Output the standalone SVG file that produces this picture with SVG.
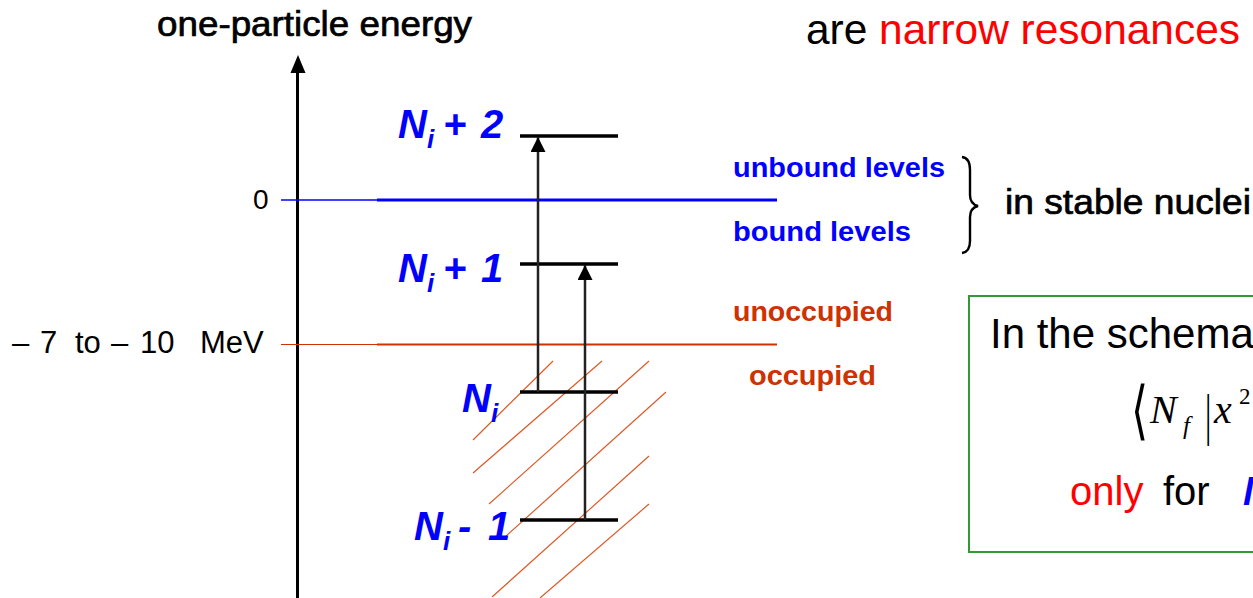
<svg xmlns="http://www.w3.org/2000/svg" width="1253" height="598" viewBox="0 0 1253 598">
<style>
.sans{font-family:"Liberation Sans",Arial,sans-serif}
.heavy{stroke:#000;stroke-width:0.7}
.lab{font-family:"Liberation Sans",Arial,sans-serif;font-weight:bold;font-style:italic;fill:#0000ff;font-size:40px}
.sub{font-size:26px}
.lvl{stroke:#000;stroke-width:3.5}
.hatch{stroke:#dc5a28;stroke-width:1.2}
.orange{fill:#cc3300}
.blue{fill:#0000ff}
.serif{font-family:"Liberation Serif","Times New Roman",serif}
</style>
<defs>
<marker id="ah" markerUnits="userSpaceOnUse" markerWidth="16" markerHeight="16" refX="15" refY="7.5" orient="auto">
<path d="M0,0 L15,7.5 L0,15 Z" fill="#000"/>
</marker>
</defs>
<rect width="1253" height="598" fill="#fff"/>

<g id="title">
<text class="sans heavy" x="157" y="36" font-size="35" textLength="315" lengthAdjust="spacingAndGlyphs">one-particle energy</text>
</g>
<g id="header">
<text class="sans" x="806" y="44" font-size="42" textLength="434" lengthAdjust="spacingAndGlyphs"><tspan fill="#000">are </tspan><tspan fill="#ff0000">narrow resonances</tspan></text>
</g>

<g id="axis">
<line x1="297.5" y1="598" x2="297.5" y2="70" stroke="#000" stroke-width="3"/>
<path d="M290.5,73 L298,55 L305.5,73 Z" fill="#000"/>
<text class="sans" x="253" y="209" font-size="28">0</text>
<text class="sans" y="353" font-size="31"><tspan x="12">–</tspan><tspan x="40">7</tspan><tspan x="75">to</tspan><tspan x="111">–</tspan><tspan x="140">10</tspan><tspan x="200">MeV</tspan></text>
</g>

<g id="hatching">
<line class="hatch" x1="473" y1="440" x2="553" y2="361"/>
<line class="hatch" x1="473" y1="473" x2="602" y2="361"/>
<line class="hatch" x1="489" y1="504" x2="649" y2="361"/>
<line class="hatch" x1="505" y1="537" x2="666" y2="392"/>
<line class="hatch" x1="492" y1="597" x2="649" y2="456"/>
<line class="hatch" x1="540" y1="598" x2="649" y2="504"/>
</g>

<g id="zero-line">
<line x1="281" y1="200" x2="377" y2="200" stroke="#0000ff" stroke-width="1.5"/>
<line x1="377" y1="200" x2="777" y2="200" stroke="#0000ff" stroke-width="3"/>
<text class="sans blue" x="733" y="177" font-size="28" font-weight="bold" textLength="212" lengthAdjust="spacingAndGlyphs">unbound levels</text>
<text class="sans blue" x="733" y="241" font-size="28" font-weight="bold" textLength="178" lengthAdjust="spacingAndGlyphs">bound levels</text>
</g>

<g id="fermi-line">
<line x1="281" y1="344.5" x2="377" y2="344.5" stroke="#cc3300" stroke-width="1.2"/>
<line x1="377" y1="344.5" x2="777" y2="344.5" stroke="#cc3300" stroke-width="2"/>
<text class="sans orange" x="733" y="321" font-size="28" font-weight="bold" textLength="160" lengthAdjust="spacingAndGlyphs">unoccupied</text>
<text class="sans orange" x="749" y="385" font-size="28" font-weight="bold" textLength="127" lengthAdjust="spacingAndGlyphs">occupied</text>
</g>

<g id="brace">
<path d="M962,157 Q970,158 970,170 L970,195 Q970,204 978,206 Q970,208 970,217 L970,241 Q970,252 962,253" fill="none" stroke="#000" stroke-width="2.4"/>
<text class="sans heavy" x="1005" y="214" font-size="35" textLength="246" lengthAdjust="spacingAndGlyphs">in stable nuclei</text>
</g>

<g id="level-Ni2">
<line class="lvl" x1="520" y1="136" x2="618" y2="136"/>
<text class="lab" y="138"><tspan x="398">N</tspan><tspan class="sub" dy="10">i</tspan><tspan dy="-10" x="443">+</tspan><tspan x="481">2</tspan></text>
</g>
<g id="level-Ni1">
<line class="lvl" x1="520" y1="264" x2="618" y2="264"/>
<text class="lab" y="282"><tspan x="398">N</tspan><tspan class="sub" dy="10">i</tspan><tspan dy="-10" x="443">+</tspan><tspan x="481">1</tspan></text>
</g>
<g id="level-Ni">
<line class="lvl" x1="520" y1="392" x2="618" y2="392"/>
<text class="lab" y="412"><tspan x="462">N</tspan><tspan class="sub" dy="10">i</tspan></text>
</g>
<g id="level-Ni-1">
<line class="lvl" x1="520" y1="520" x2="618" y2="520"/>
<text class="lab" y="540"><tspan x="414">N</tspan><tspan class="sub" dy="10">i</tspan><tspan dy="-10" x="458">-</tspan><tspan x="488">1</tspan></text>
</g>

<g id="connectors">
<line x1="538" y1="392" x2="538" y2="137" stroke="#222" stroke-width="2.5" marker-end="url(#ah)"/>
<line x1="585" y1="520" x2="585" y2="265" stroke="#222" stroke-width="2.5" marker-end="url(#ah)"/>
</g>

<g id="note-box">
<rect x="969" y="296" width="300" height="256" fill="none" stroke="#339933" stroke-width="2"/>
<text class="sans" x="990" y="348" font-size="42">In the schema</text>
<text class="serif" font-size="40" transform="translate(1131,432) scale(1.1,1.6)">⟨</text>
<text class="serif" font-size="40" font-style="italic" x="1150" y="423">N</text>
<text class="serif" font-size="25" font-style="italic" x="1183" y="434">f</text>
<text class="serif" font-size="40" transform="translate(1205,434) scale(0.8,1.45)">|</text>
<text class="serif" font-size="40" font-style="italic" x="1214" y="423">x</text>
<text class="serif" font-size="23" x="1239" y="404">2</text>
<text class="sans" y="505" font-size="40"><tspan x="1070" fill="#ff0000">only</tspan><tspan x="1163" fill="#000">for</tspan><tspan x="1243" fill="#0000ff" font-weight="bold" font-style="italic">N</tspan></text>
</g>
</svg>
